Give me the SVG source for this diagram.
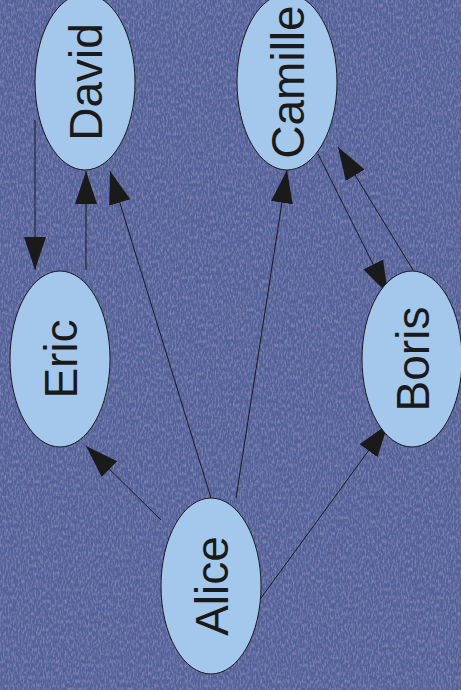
<svg xmlns="http://www.w3.org/2000/svg" width="461" height="690" viewBox="0 0 461 690">
<style>
.node ellipse{fill:#a4c8ec;stroke:#1a1a1a;stroke-width:1}
.node text{font-family:"Liberation Sans",Arial,sans-serif;font-size:46px;fill:#1a1a1a;text-anchor:middle}
#edges line{stroke:#1a1a1a;stroke-width:1;marker-end:url(#arr)}
</style>
<defs>
<marker id="arr" markerUnits="userSpaceOnUse" markerWidth="34" markerHeight="24" refX="33" refY="11" orient="auto">
<path d="M0,0 L33,11 L0,22 z" fill="#1a1a1a"/>
</marker>
<filter id="tex" x="0" y="0" width="100%" height="100%">
<feTurbulence type="fractalNoise" baseFrequency="0.6 0.25" numOctaves="3" seed="7" result="n"/>
<feColorMatrix in="n" type="matrix" values="0 0 0 0 0.58  0 0 0 0 0.5  0 0 0 0 0.78  0 0 0 1.4 -0.6" result="c"/>
<feComposite in="c" in2="SourceGraphic" operator="over"/>
</filter>
</defs>
<rect width="461" height="690" fill="#53639a"/>
<rect width="461" height="690" fill="#53639a" filter="url(#tex)" opacity="0.55"/>
<g id="edges">
<line x1="35" y1="120" x2="35" y2="270"/>
<line x1="86" y1="270" x2="86" y2="171"/>
<line x1="211" y1="498" x2="110" y2="171"/>
<line x1="236" y1="498" x2="287" y2="170"/>
<line x1="318" y1="154" x2="388" y2="294"/>
<line x1="413" y1="270" x2="338" y2="147"/>
<line x1="161" y1="520" x2="86" y2="446"/>
<line x1="261" y1="598" x2="388" y2="424"/>
</g>
<g id="david" class="node"><ellipse cx="85" cy="82" rx="50" ry="88"/><text transform="translate(101.5,82) rotate(-90)">David</text></g>
<g id="camille" class="node"><ellipse cx="287" cy="82" rx="50" ry="88"/><text transform="translate(303.5,82) rotate(-90)">Camille</text></g>
<g id="eric" class="node"><ellipse cx="60" cy="359" rx="50" ry="88"/><text transform="translate(76.5,359) rotate(-90)">Eric</text></g>
<g id="boris" class="node"><ellipse cx="412" cy="359" rx="50" ry="88"/><text transform="translate(428.5,359) rotate(-90)">Boris</text></g>
<g id="alice" class="node"><ellipse cx="211" cy="586" rx="50" ry="88"/><text transform="translate(227.5,586) rotate(-90)">Alice</text></g>
</svg>
